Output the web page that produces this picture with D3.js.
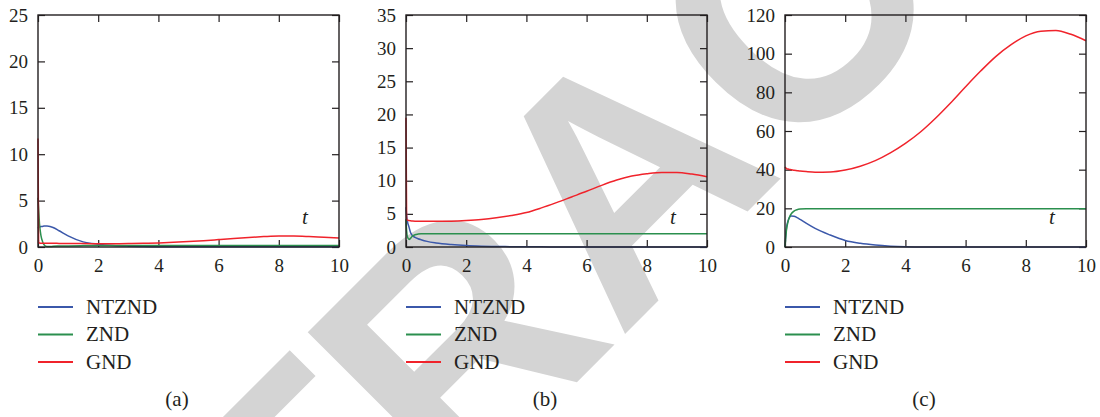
<!DOCTYPE html>
<html>
<head>
<meta charset="utf-8">
<script src="https://cdn.jsdelivr.net/npm/d3@7"></script>
<style>
    body { margin: 0; background: #fff; }
    svg { display: block; }
    text { font-family: "Liberation Serif", "DejaVu Serif", serif; fill: #231f20; }
</style>
</head>
<body>
<div id="chart"></div>
<script>
// shared time grid (denser near t = 0 where the curves jump)
const tGrid = [0, 0.02, 0.05, 0.1, 0.15, 0.2, 0.3, 0.4, 0.5, 0.7, 1, 1.5, 2, 2.5, 3, 3.5, 4, 4.5, 5, 5.5, 6, 6.5, 7, 7.5, 8, 8.5, 9, 9.5, 10];

const seriesNames = ["NTZND", "ZND", "GND"];
const panelLabels = ["(a)", "(b)", "(c)"];
const xTicks = [0, 2, 4, 6, 8, 10];
const yTicksA = [0, 5, 10, 15, 20, 25];
const yTicksB = [0, 5, 10, 15, 20, 25, 30, 35];
const yTicksC = [0, 20, 40, 60, 80, 100, 120];

// panel (a)
const ntzndA = [2.0, 2.1, 2.15, 2.2, 2.22, 2.25, 2.25, 2.2, 2.1, 1.75, 1.2, 0.55, 0.3, 0.16, 0.09, 0.05, 0.03, 0.02, 0.02, 0.02, 0.02, 0.02, 0.02, 0.02, 0.02, 0.02, 0.02, 0.02, 0.02];
const zndA = [5.3, 4.2, 2.5, 1.2, 0.6, 0.25, 0.05, 0.05, 0.08, 0.1, 0.12, 0.15, 0.16, 0.17, 0.17, 0.17, 0.17, 0.17, 0.17, 0.17, 0.17, 0.17, 0.17, 0.17, 0.17, 0.17, 0.17, 0.17, 0.17];
const gndA = [11.7, 0.45, 0.42, 0.41, 0.4, 0.4, 0.4, 0.4, 0.4, 0.39, 0.38, 0.37, 0.36, 0.36, 0.37, 0.4, 0.44, 0.5, 0.58, 0.68, 0.8, 0.92, 1.03, 1.12, 1.18, 1.18, 1.13, 1.05, 0.98];

// panel (b)
const ntzndB = [6.0, 4.8, 3.8, 3.0, 2.2, 1.8, 1.45, 1.25, 1.1, 0.85, 0.62, 0.38, 0.22, 0.13, 0.08, 0.05, 0.03, 0.02, 0.01, 0.01, 0.01, 0, 0, 0, 0, 0, 0, 0, 0];
const zndB = [4.2, 2.5, 1.5, 1.15, 1.3, 1.6, 1.85, 1.95, 2.0, 2.0, 2.0, 2.0, 2.0, 2.0, 2.0, 2.0, 2.0, 2.0, 2.0, 2.0, 2.0, 2.0, 2.0, 2.0, 2.0, 2.0, 2.0, 2.0, 2.0];
const gndB = [19.5, 4.2, 4.05, 4.0, 3.95, 3.93, 3.9, 3.9, 3.89, 3.88, 3.87, 3.9, 4.0, 4.15, 4.4, 4.75, 5.2, 5.9, 6.7, 7.55, 8.4, 9.3, 10.1, 10.7, 11.05, 11.25, 11.25, 11.0, 10.6];

// panel (c)
const ntzndC = [0, 5, 10, 13.5, 15.3, 16.0, 15.9, 15.2, 14.3, 12.3, 9.6, 6.2, 3.4, 1.9, 1.0, 0.45, 0.15, 0.05, 0.02, 0, 0, 0, 0, 0, 0, 0, 0, 0, 0];
const zndC = [0, 4, 9, 13, 15.5, 17, 18.6, 19.3, 19.6, 19.8, 19.8, 19.8, 19.8, 19.8, 19.8, 19.8, 19.8, 19.8, 19.8, 19.8, 19.8, 19.8, 19.8, 19.8, 19.8, 19.8, 19.8, 19.8, 19.8];
const gndC = [41.5, 41, 40.6, 40.3, 40.1, 40, 39.7, 39.5, 39.3, 39, 38.7, 38.8, 39.8, 41.8, 44.7, 48.7, 53.6, 59.5, 66.6, 74.5, 82.9, 91, 98.5, 104.5, 109.2, 111.6, 112, 110, 106.7];

const colors = ["#3b58aa", "#2b8f4e", "#f0232b"];

const width = 1100, height = 417;
const svg = d3.select("#chart").append("svg")
    .attr("width", width)
    .attr("height", height);

// background watermark, centred on the "A"
svg.append("text")
    .attr("transform", "translate(620,173) rotate(-45)")
    .attr("text-anchor", "middle")
    .attr("dy", "0.358em")
    .style("font-family", "'Liberation Sans', Arial, sans-serif")
    .style("font-weight", "bold")
    .style("font-size", "328px")
    .style("font-kerning", "none")
    .style("fill", "#d4d4d4")
    .text("RETRACTED");

const panels = [
    {left: 38, yTicks: yTicksA, series: [ntzndA, zndA, gndA]},
    {left: 406, yTicks: yTicksB, series: [ntzndB, zndB, gndB]},
    {left: 785, yTicks: yTicksC, series: [ntzndC, zndC, gndC]}
];

const plotWidth = 301;
const plotTop = 15, plotBottom = 247;

panels.forEach(function(p, pi) {
    const g = svg.append("g")
        .attr("transform", `translate(${p.left}, ${plotTop})`);
    const plotHeight = plotBottom - plotTop;

    const x = d3.scaleLinear().domain([0, 10]).range([0, plotWidth]);
    const y = d3.scaleLinear()
        .domain([0, p.yTicks[p.yTicks.length - 1]])
        .range([plotHeight, 0]);

    // axes with inward ticks on all four sides
    const left = g.append("g")
        .call(d3.axisLeft(y).tickValues(p.yTicks).tickSize(-7).tickPadding(10));
    const right = g.append("g")
        .attr("transform", `translate(${plotWidth}, 0)`)
        .call(d3.axisRight(y).tickValues(p.yTicks).tickSize(-7).tickFormat(""));
    const bottom = g.append("g")
        .attr("transform", `translate(0, ${plotHeight})`)
        .call(d3.axisBottom(x).tickValues(xTicks).tickSize(-7).tickPadding(12));
    const top = g.append("g")
        .call(d3.axisTop(x).tickValues(xTicks).tickSize(-7).tickFormat(""));

    [left, right, bottom, top].forEach(function(a) {
        a.select(".domain").remove();
        a.selectAll(".tick line").attr("stroke", "#231f20").attr("stroke-width", 1.2);
        a.selectAll(".tick text")
            .style("font-family", "'Liberation Serif', serif")
            .style("font-size", "19px")
            .attr("fill", "#231f20");
    });

    // curves
    const line = d3.line()
        .x((d, i) => x(tGrid[i]))
        .y(d => y(d))
        .curve(d3.curveMonotoneX);

    p.series.forEach(function(values, si) {
        g.append("path")
            .datum(values)
            .attr("fill", "none")
            .attr("stroke", colors[si])
            .attr("stroke-width", 1.5)
            .attr("d", line);
    });

    // frame
    g.append("rect")
        .attr("width", plotWidth)
        .attr("height", plotHeight)
        .attr("fill", "none")
        .attr("stroke", "#231f20")
        .attr("stroke-width", 1.4);

    // variable label
    g.append("text")
        .attr("x", x(8.87))
        .attr("y", plotHeight - 23)
        .attr("text-anchor", "middle")
        .style("font-style", "italic")
        .style("font-size", "21px")
        .text("t");

    // legend
    const legend = svg.append("g")
        .attr("transform", `translate(${p.left}, 307)`);
    seriesNames.forEach(function(name, si) {
        legend.append("line")
            .attr("x1", 0)
            .attr("x2", 35)
            .attr("y1", si * 27.5)
            .attr("y2", si * 27.5)
            .attr("stroke", colors[si])
            .attr("stroke-width", 2);
        legend.append("text")
            .attr("x", 48)
            .attr("y", si * 27.5 + 6.5)
            .style("font-size", "21px")
            .text(name);
    });

    // panel caption
    svg.append("text")
        .attr("x", p.left + 139)
        .attr("y", 406)
        .attr("text-anchor", "middle")
        .style("font-size", "21px")
        .text(panelLabels[pi]);
});
</script>
</body>
</html>
